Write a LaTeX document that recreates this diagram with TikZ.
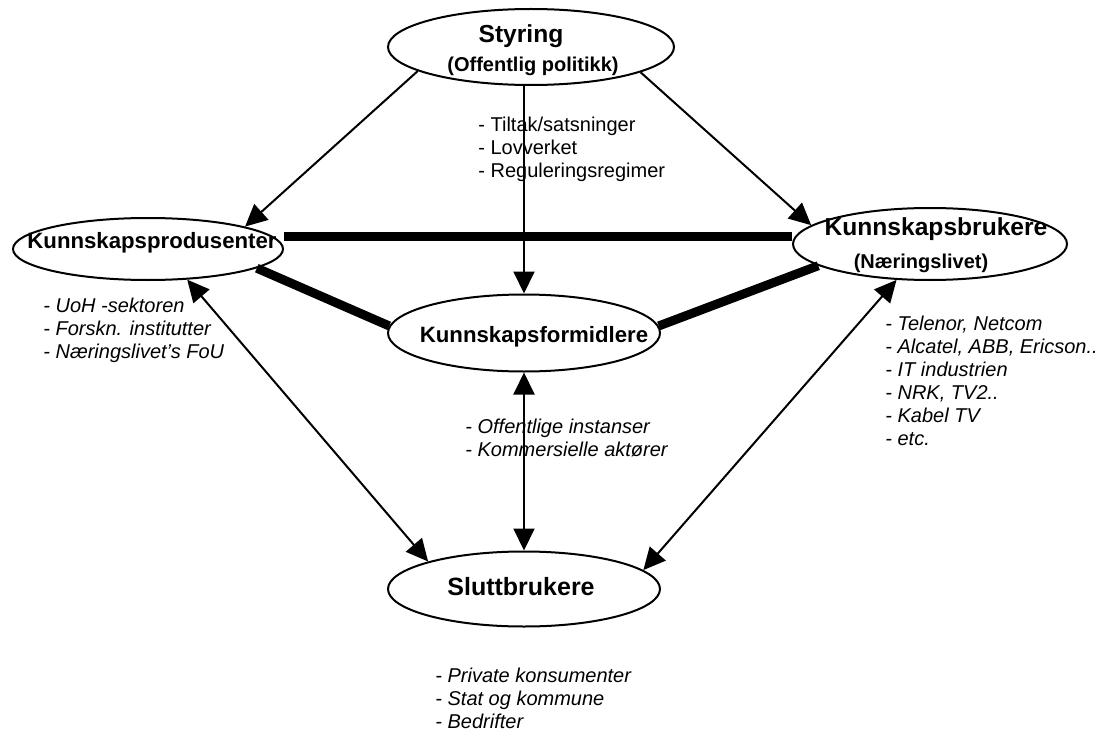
\documentclass[tikz,border=0pt]{standalone}
\usepackage{fontspec}
\setmainfont{Liberation Sans}
\usetikzlibrary{shapes}
\usetikzlibrary{arrows.meta}

\begin{document}
\begin{tikzpicture}[x=0.5pt, y=-0.5pt,
		ell/.style={ellipse, draw, line width=1pt, inner sep=0pt},
		title/.style={anchor=base, inner sep=0pt, font=\bfseries\fontsize{12.3}{14}\selectfont},
		subtitle/.style={anchor=base, inner sep=0pt, font=\bfseries\fontsize{10}{12}\selectfont},
		list/.style={align=left, anchor=west, inner sep=0pt, font=\fontsize{10}{11.5}\selectfont},
		ilist/.style={list, font=\itshape\fontsize{10}{11.5}\selectfont},
		link/.style={line width=4.5pt},
		arr/.style={line width=1pt, -{Triangle[length=11pt,width=10.5pt]}},
		darr/.style={line width=1pt, {Triangle[length=11pt,width=10.5pt]}-{Triangle[length=11pt,width=10.5pt]}}]
	\useasboundingbox (0,0) rectangle (1098,733);

	\node[ell, minimum width=143pt, minimum height=38pt] (styr) at (531,47) {};
	\node[ell, minimum width=135pt, minimum height=31pt] (prod) at (148,249) {};
	\node[ell, minimum width=137pt, minimum height=36pt] (bruk) at (930,244) {};
	\node[ell, minimum width=136pt, minimum height=38.5pt] (form) at (524,333) {};
	\node[ell, minimum width=136pt, minimum height=37.5pt] (slutt) at (524,589) {};

	\node[title] (styrT) at (521,43) {Styring};
	\node[subtitle] (styrS) at (533,72) {(Offentlig politikk)};
	\node[title, font=\bfseries\fontsize{11.1}{13}\selectfont] (prodT) at (152,248) {Kunnskapsprodusenter};
	\node[title] (brukT) at (936,235) {Kunnskapsbrukere};
	\node[subtitle] (brukS) at (921,268) {(Næringslivet)};
	\node[title, font=\bfseries\fontsize{11.1}{13}\selectfont] (formT) at (534,342) {Kunnskapsformidlere};
	\node[title, font=\bfseries\fontsize{12.5}{14}\selectfont] (sluttT) at (521,595) {Sluttbrukere};

	\node[list] (styrL) at (478,149) {- Tiltak/satsninger\\- Lovverket\\- Reguleringsregimer};
	\node[ilist] (prodL) at (43,330) {- UoH -sektoren\\- Forskn. institutter\\- Næringslivet's FoU};
	\node[ilist] (brukL) at (885,381) {- Telenor, Netcom\\- Alcatel, ABB, Ericson..\\- IT industrien\\- NRK, TV2..\\- Kabel TV\\- etc.};
	\node[ilist] (formL) at (465,438) {- Offentlige instanser\\- Kommersielle aktører};
	\node[ilist] (sluttL) at (435,698) {- Private konsumenter\\- Stat og kommune\\- Bedrifter};

	% thick links
	\draw[link] ([yshift=6.5pt]prod.east) -- ([yshift=4pt]bruk.west);
	\draw[link] (prod.-10) -- (form.177);
	\draw[link] (form.3) -- (bruk.-169);

	% arrows
	\draw[arr] (styr.-168) -- (prod.13);
	\draw[arr] (styr.-13) -- (bruk.171);
	\draw[arr] (form.north |- styr.south) -- (form.north);
	\draw[darr] (prod.-38) -- (slutt.164);
	\draw[darr] (form.south) -- (slutt.north);
	\draw[darr] (bruk.-133) -- (slutt.9);
\end{tikzpicture}
\end{document}
